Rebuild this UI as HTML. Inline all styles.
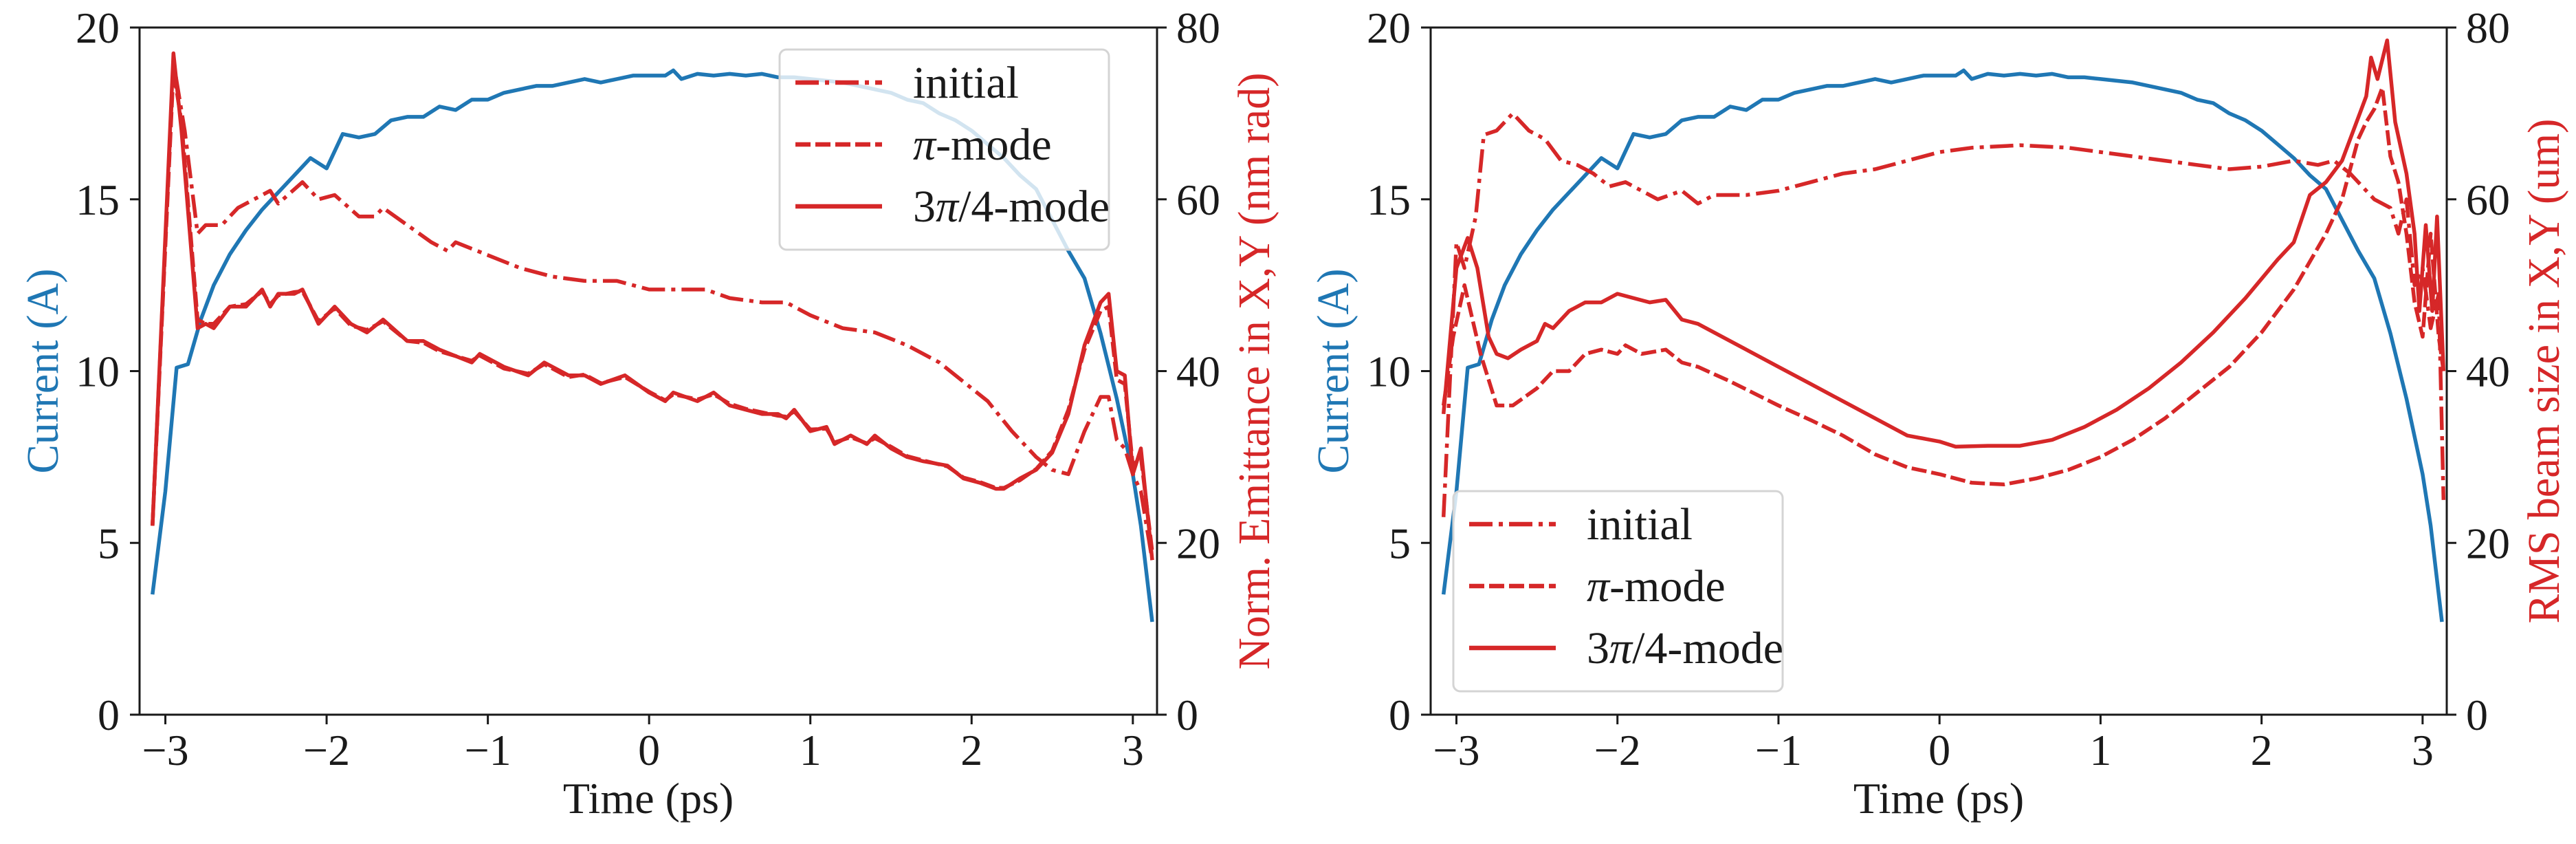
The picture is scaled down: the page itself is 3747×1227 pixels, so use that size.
<!DOCTYPE html>
<html><head><meta charset="utf-8">
<style>
html,body{margin:0;padding:0;background:#fff;}
svg{display:block;}
text{font-family:"Liberation Serif",serif;fill:#1a1a1a;}
</style></head>
<body>
<svg id="chart" xmlns="http://www.w3.org/2000/svg" width="3747" height="1227" viewBox="0 0 3747 1227"></svg>
<script>
// ---- shared current profile ----
const currentTime = [-3.08,-3.0,-2.93,-2.86,-2.78,-2.7,-2.6,-2.5,-2.4,-2.3,-2.2,-2.1,-2.0,-1.9,-1.8,-1.7,-1.6,-1.5,-1.4,-1.3,-1.2,-1.1,-1.0,-0.9,-0.8,-0.7,-0.6,-0.5,-0.4,-0.3,-0.2,-0.1,0,0.1,0.15,0.2,0.3,0.4,0.5,0.6,0.7,0.8,0.9,1.0,1.1,1.2,1.3,1.4,1.5,1.6,1.7,1.8,1.9,2.0,2.1,2.2,2.3,2.4,2.5,2.6,2.7,2.8,2.9,3.0,3.05,3.12];
const currentVals = [3.5,6.5,10.1,10.2,11.5,12.5,13.4,14.1,14.7,15.2,15.7,16.2,15.9,16.9,16.8,16.9,17.3,17.4,17.4,17.7,17.6,17.9,17.9,18.1,18.2,18.3,18.3,18.4,18.5,18.4,18.5,18.6,18.6,18.6,18.75,18.5,18.65,18.6,18.65,18.6,18.65,18.55,18.55,18.5,18.45,18.4,18.3,18.2,18.1,17.9,17.8,17.5,17.3,17.0,16.6,16.2,15.7,15.3,14.4,13.5,12.7,11.1,9.2,7.0,5.5,2.7];

// ---- left panel: emittance ----
const emitInitT = [-3.08,-2.95,-2.88,-2.8,-2.75,-2.65,-2.55,-2.45,-2.35,-2.3,-2.15,-2.05,-1.95,-1.8,-1.7,-1.65,-1.5,-1.35,-1.25,-1.2,-1.0,-0.8,-0.6,-0.4,-0.2,0,0.2,0.35,0.5,0.7,0.85,1.0,1.2,1.4,1.6,1.8,2.0,2.1,2.25,2.4,2.5,2.6,2.7,2.8,2.85,2.9,2.95,3.0,3.05,3.12];
const emitInitV = [22,76,68,56,57,57,59,60,61,59.5,62,60,60.5,58,58,59,57,55,54,55,53.5,52,51,50.5,50.5,49.5,49.5,49.5,48.5,48,48,46.5,45,44.5,43,41,38,36.5,33,30,28.5,28,33,37,37,32,31,28,26,18];
const emitPiT = [-3.08,-2.95,-2.9,-2.8,-2.75,-2.7,-2.6,-2.5,-2.4,-2.35,-2.3,-2.2,-2.15,-2.05,-1.95,-1.85,-1.75,-1.65,-1.5,-1.4,-1.3,-1.1,-1.05,-0.9,-0.75,-0.65,-0.5,-0.4,-0.3,-0.15,0,0.1,0.15,0.3,0.4,0.5,0.6,0.7,0.8,0.85,0.9,1.0,1.1,1.15,1.25,1.35,1.4,1.5,1.6,1.7,1.85,1.95,2.05,2.15,2.2,2.3,2.4,2.5,2.6,2.7,2.8,2.85,2.9,2.95,3.0,3.05,3.12];
const emitPiV = [22,75,69,46,45.5,45.5,47.5,47.8,49.3,47.8,48.8,49.2,49.3,45.8,47.3,45.3,44.8,45.8,43.5,43.3,42.3,41.2,41.8,40.3,39.7,40.8,39.3,39.6,38.6,39.3,37.6,36.6,37.3,36.7,37.3,36.2,35.6,35.2,34.8,34.7,35.3,33.2,33.3,31.7,32.3,31.6,32.2,31.2,30.1,29.6,28.9,27.6,27.1,26.4,26.4,27.3,28.6,30.7,35.5,42.5,47,47.5,39,38.5,29,30,19];
const emit34T = emitPiT;
const emit34V = [22,77,68,45,45.5,45,47.5,47.5,49.5,47.5,49,49,49.5,45.5,47.5,45.5,44.5,46,43.5,43.5,42.5,41,42,40.5,39.5,41,39.5,39.5,38.5,39.5,37.5,36.5,37.5,36.5,37.5,36,35.5,35,35,34.5,35.5,33,33.5,31.5,32.5,31.5,32.5,31,30,29.5,29,27.5,27,26.3,26.3,27.5,28.5,30.5,35,43,48,49,40,39.5,28,31,18];

// ---- right panel: RMS beam size ----
const rmsInitT = [-3.08,-3.0,-2.95,-2.88,-2.83,-2.75,-2.65,-2.55,-2.45,-2.35,-2.25,-2.15,-2.05,-1.95,-1.85,-1.75,-1.6,-1.5,-1.4,-1.2,-1.0,-0.8,-0.6,-0.4,-0.2,0,0.2,0.5,0.8,1.0,1.2,1.4,1.6,1.8,2.0,2.2,2.35,2.45,2.55,2.6,2.7,2.8,2.85,2.9,2.95,3.0,3.05,3.1,3.13];
const rmsInitV = [23,55,52,58,67.5,68,70,68,67,64.5,64,63,61.5,62,61,60,61,59.5,60.5,60.5,61,62,63,63.5,64.5,65.5,66,66.3,66,65.5,65,64.5,64,63.5,63.8,64.5,64,64.5,63,62,60,59,56,60,50,52,45,49,25];
const rmsPiT = [-3.08,-3.02,-2.95,-2.9,-2.85,-2.75,-2.65,-2.5,-2.4,-2.3,-2.2,-2.1,-2.0,-1.95,-1.85,-1.7,-1.6,-1.5,-1.3,-1.0,-0.8,-0.6,-0.4,-0.2,0,0.2,0.4,0.6,0.8,1.0,1.2,1.4,1.6,1.8,2.0,2.2,2.4,2.5,2.6,2.65,2.7,2.75,2.8,2.85,2.9,2.95,3.0,3.05,3.1,3.13];
const rmsPiV = [36,44,50,46,42,36,36,38,40,40,42,42.5,42,43,42,42.5,41,40.5,38.8,36,34.3,32.5,30.3,28.8,28,27,26.8,27.5,28.5,30,32,34.5,37.5,40.5,44.5,49.5,56,60,67,69,70.5,73,65,62,56,48,44,56,44,40];
const rms34T = [-3.08,-3.0,-2.93,-2.87,-2.8,-2.75,-2.68,-2.6,-2.5,-2.45,-2.4,-2.3,-2.2,-2.1,-2.0,-1.9,-1.8,-1.7,-1.6,-1.5,-1.3,-1.0,-0.8,-0.6,-0.4,-0.2,0,0.1,0.3,0.5,0.7,0.9,1.1,1.3,1.5,1.7,1.9,2.1,2.2,2.3,2.4,2.5,2.6,2.65,2.68,2.72,2.78,2.83,2.9,2.95,2.98,3.02,3.06,3.09,3.13];
const rms34V = [35,52,55.5,52,44,42,41.5,42.5,43.5,45.5,45,47,48,48,49,48.5,48,48.3,46,45.5,43.5,40.5,38.5,36.5,34.5,32.5,31.8,31.2,31.3,31.3,32,33.5,35.5,38,41,44.5,48.5,53,55,60.5,62,64.5,69.5,72,76.5,74,78.5,69,63,56,47,57,47,58,40];

// ---- ticks ----
const xTicks = [-3,-2,-1,0,1,2,3];
const xTickLabels = ["\u22123","\u22122","\u22121","0","1","2","3"];
const yLeftTicks = [0,5,10,15,20];
const yRightTicks = [0,20,40,60,80];

const NS = "http://www.w3.org/2000/svg";
const svg = document.getElementById("chart");
const BLUE = "#1f77b4", RED = "#d62728";
const DASH = "22,7", DASHDOT = "34,9,6,9";

function mk(tag, attrs, parent) {
  const e = document.createElementNS(NS, tag);
  for (const k in attrs) e.setAttribute(k, attrs[k]);
  (parent || svg).appendChild(e);
  return e;
}

const panels = [
  {x0:203, x1:1683, y0:40, y1:1039, name:"left",
   rightLabel:"Norm. Emittance in X,Y (nm rad)", rlx:1846, rll:868, llx:84, lll:298,
   series:[[emitInitT,emitInitV,DASHDOT,"initial"],[emitPiT,emitPiV,DASH,"pi-mode"],[emit34T,emit34V,null,"three-quarter-pi-mode"]],
   leg:{x:1134,y:72}},
  {x0:2081, x1:3559, y0:40, y1:1039, name:"right",
   rightLabel:"RMS beam size in X,Y (um)", rlx:3722, rll:734, llx:1961, lll:298,
   series:[[rmsInitT,rmsInitV,DASHDOT,"initial"],[rmsPiT,rmsPiV,DASH,"pi-mode"],[rms34T,rms34V,null,"three-quarter-pi-mode"]],
   leg:{x:2114,y:714}}
];
const XMIN=-3.16, XMAX=3.15;

panels.forEach(p => {
  const g = mk("g", {});
  
  
  const sx = t => p.x0 + (t - XMIN) / (XMAX - XMIN) * (p.x1 - p.x0);
  const syL = v => p.y1 - v / 20 * (p.y1 - p.y0);
  const syR = v => p.y1 - v / 80 * (p.y1 - p.y0);
  const cy = (p.y0 + p.y1) / 2;

  const cpts = currentTime.map((t,i)=>sx(t).toFixed(1)+","+syL(currentVals[i]).toFixed(1)).join(" ");
  const cl = mk("polyline", {points:cpts, fill:"none", stroke:BLUE, "stroke-width":5.5, "stroke-linejoin":"round"}, g);
  
  

  p.series.forEach(s => {
    const pts = s[0].map((t,i)=>sx(t).toFixed(1)+","+syR(s[1][i]).toFixed(1)).join(" ");
    const a = {points:pts, fill:"none", stroke:RED, "stroke-width":5.5, "stroke-linejoin":"round"};
    if (s[2]) a["stroke-dasharray"] = s[2];
    const l = mk("polyline", a, g);
    
    
  });

  const fr = mk("path", {d:`M${p.x0},${p.y0}H${p.x1}V${p.y1}H${p.x0}Z`, fill:"none", stroke:"#1a1a1a", "stroke-width":3}, g);
  
  

  xTicks.forEach((t,i) => {
    const x = sx(t);
    mk("line", {x1:x, x2:x, y1:p.y1, y2:p.y1+14, stroke:"#1a1a1a", "stroke-width":3}, g);
    const tx = mk("text", {x:x, y:1112, "font-size":64, "text-anchor":"middle"}, g);
    tx.textContent = xTickLabels[i];
    
    
  });
  yLeftTicks.forEach(v => {
    const y = syL(v);
    mk("line", {x1:p.x0-14, x2:p.x0, y1:y, y2:y, stroke:"#1a1a1a", "stroke-width":3}, g);
    const tx = mk("text", {x:p.x0-29, y:y+22, "font-size":64, "text-anchor":"end"}, g);
    tx.textContent = v;
    
    
  });
  yRightTicks.forEach(v => {
    const y = syR(v);
    mk("line", {x1:p.x1, x2:p.x1+14, y1:y, y2:y, stroke:"#1a1a1a", "stroke-width":3}, g);
    const tx = mk("text", {x:p.x1+28, y:y+22, "font-size":64, "text-anchor":"start"}, g);
    tx.textContent = v;
    
    
  });

  const xl = mk("text", {x:(p.x0+p.x1)/2, y:1182, "font-size":64, "text-anchor":"middle"}, g);
  xl.textContent = "Time (ps)";
  
  

  const yl = mk("text", {x:0, y:0, "font-size":66, "text-anchor":"middle",
    style:"fill:"+BLUE, textLength:p.lll, lengthAdjust:"spacingAndGlyphs",
    transform:`translate(${p.llx},${cy}) rotate(-90)`}, g);
  yl.textContent = "Current (A)";
  
  

  const yr = mk("text", {x:0, y:0, "font-size":66, "text-anchor":"middle",
    style:"fill:"+RED, textLength:p.rll, lengthAdjust:"spacingAndGlyphs",
    transform:`translate(${p.rlx},${cy}) rotate(-90)`}, g);
  yr.textContent = p.rightLabel;
  
  

  const lg = mk("g", {}, g);
  
  
  mk("rect", {x:p.leg.x, y:p.leg.y, width:479, height:291, rx:10, fill:"#fff", "fill-opacity":0.8, stroke:"#d4d4d4", "stroke-width":3}, lg);
  const labels = [["initial",DASHDOT],["\u03c0-mode",DASH],["3\u03c0/4-mode",null]];
  labels.forEach((lab,i) => {
    const y = p.leg.y + 48 + i*90;
    const la = {x1:p.leg.x+23, x2:p.leg.x+149, y1:y, y2:y, stroke:RED, "stroke-width":6.5};
    if (lab[1]) la["stroke-dasharray"] = lab[1];
    const hl = mk("line", la, lg);
    
    
    const tx = mk("text", {x:p.leg.x+194, y:y+22, "font-size":66}, lg);
    if (i === 0) { tx.textContent = "initial"; }
    else {
      const pre = i === 2 ? "3" : "";
      const post = i === 2 ? "/4-mode" : "-mode";
      if (pre) { const a = mk("tspan", {}, tx); a.textContent = pre; }
      const b = mk("tspan", {"font-style":"italic"}, tx); b.textContent = "\u03c0";
      const c = mk("tspan", {}, tx); c.textContent = post;
    }
    
    
  });
});
</script>
</body></html>
